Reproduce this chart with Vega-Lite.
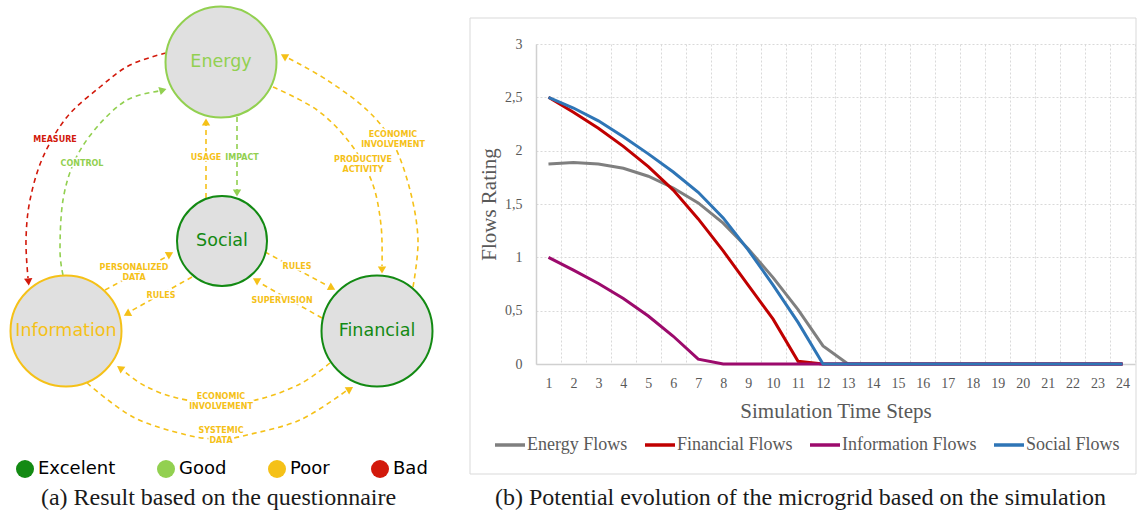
{
  "$schema": "https://vega.github.io/schema/vega-lite/v6.json",
  "padding": 0,
  "background": "white",
  "bounds": "flush",
  "center": true,
  "spacing": 99,
  "resolve": {"scale": {"color": "independent"}, "legend": {"color": "independent"}},
  "config": {"view": {"stroke": null}},
  "datasets": {
    "frame": [{"x": 470, "y": 18, "x2": 1136, "y2": 474}],
    "nodes": [
      {"node": "Energy", "x": 221, "y": 62, "rating": "Good"},
      {"node": "Social", "x": 222, "y": 241, "rating": "Excelent"},
      {"node": "Information", "x": 66, "y": 331, "rating": "Poor"},
      {"node": "Financial", "x": 377, "y": 331, "rating": "Excelent"}
    ],
    "arrows": [
      {"arrow": "A1", "i": 0, "x": 166, "y": 53, "rating": "Bad"},
      {"arrow": "A1", "i": 1, "x": 130, "y": 65, "rating": "Bad"},
      {"arrow": "A1", "i": 2, "x": 100, "y": 87, "rating": "Bad"},
      {"arrow": "A1", "i": 3, "x": 67, "y": 117, "rating": "Bad"},
      {"arrow": "A1", "i": 4, "x": 43, "y": 157, "rating": "Bad"},
      {"arrow": "A1", "i": 5, "x": 30, "y": 200, "rating": "Bad"},
      {"arrow": "A1", "i": 6, "x": 26, "y": 240, "rating": "Bad"},
      {"arrow": "A1", "i": 7, "x": 28, "y": 278, "rating": "Bad"},
      {"arrow": "A2", "i": 0, "x": 63, "y": 275, "rating": "Good"},
      {"arrow": "A2", "i": 1, "x": 60, "y": 250, "rating": "Good"},
      {"arrow": "A2", "i": 2, "x": 63, "y": 200, "rating": "Good"},
      {"arrow": "A2", "i": 3, "x": 75, "y": 160, "rating": "Good"},
      {"arrow": "A2", "i": 4, "x": 97, "y": 127, "rating": "Good"},
      {"arrow": "A2", "i": 5, "x": 127, "y": 100, "rating": "Good"},
      {"arrow": "A2", "i": 6, "x": 159, "y": 91, "rating": "Good"},
      {"arrow": "A3", "i": 0, "x": 206, "y": 198, "rating": "Poor"},
      {"arrow": "A3", "i": 1, "x": 206, "y": 125, "rating": "Poor"},
      {"arrow": "A4", "i": 0, "x": 237, "y": 117, "rating": "Good"},
      {"arrow": "A4", "i": 1, "x": 237, "y": 190, "rating": "Good"},
      {"arrow": "A5", "i": 0, "x": 273, "y": 87, "rating": "Poor"},
      {"arrow": "A5", "i": 1, "x": 317, "y": 110, "rating": "Poor"},
      {"arrow": "A5", "i": 2, "x": 350, "y": 143, "rating": "Poor"},
      {"arrow": "A5", "i": 3, "x": 372, "y": 182, "rating": "Poor"},
      {"arrow": "A5", "i": 4, "x": 381, "y": 225, "rating": "Poor"},
      {"arrow": "A5", "i": 5, "x": 382, "y": 266, "rating": "Poor"},
      {"arrow": "A6", "i": 0, "x": 413, "y": 287, "rating": "Poor"},
      {"arrow": "A6", "i": 1, "x": 418, "y": 240, "rating": "Poor"},
      {"arrow": "A6", "i": 2, "x": 410, "y": 190, "rating": "Poor"},
      {"arrow": "A6", "i": 3, "x": 393, "y": 143, "rating": "Poor"},
      {"arrow": "A6", "i": 4, "x": 367, "y": 110, "rating": "Poor"},
      {"arrow": "A6", "i": 5, "x": 327, "y": 80, "rating": "Poor"},
      {"arrow": "A6", "i": 6, "x": 288, "y": 58, "rating": "Poor"},
      {"arrow": "A7", "i": 0, "x": 105, "y": 290, "rating": "Poor"},
      {"arrow": "A7", "i": 1, "x": 166, "y": 257, "rating": "Poor"},
      {"arrow": "A8", "i": 0, "x": 192, "y": 277, "rating": "Poor"},
      {"arrow": "A8", "i": 1, "x": 131, "y": 311, "rating": "Poor"},
      {"arrow": "A9", "i": 0, "x": 265, "y": 252, "rating": "Poor"},
      {"arrow": "A9", "i": 1, "x": 328, "y": 286, "rating": "Poor"},
      {"arrow": "A10", "i": 0, "x": 322, "y": 318, "rating": "Poor"},
      {"arrow": "A10", "i": 1, "x": 260, "y": 283, "rating": "Poor"},
      {"arrow": "A11", "i": 0, "x": 330, "y": 363, "rating": "Poor"},
      {"arrow": "A11", "i": 1, "x": 300, "y": 384, "rating": "Poor"},
      {"arrow": "A11", "i": 2, "x": 260, "y": 399, "rating": "Poor"},
      {"arrow": "A11", "i": 3, "x": 221, "y": 404, "rating": "Poor"},
      {"arrow": "A11", "i": 4, "x": 177, "y": 398, "rating": "Poor"},
      {"arrow": "A11", "i": 5, "x": 145, "y": 386, "rating": "Poor"},
      {"arrow": "A11", "i": 6, "x": 124, "y": 371, "rating": "Poor"},
      {"arrow": "A12", "i": 0, "x": 87, "y": 383, "rating": "Poor"},
      {"arrow": "A12", "i": 1, "x": 133, "y": 417, "rating": "Poor"},
      {"arrow": "A12", "i": 2, "x": 187, "y": 435, "rating": "Poor"},
      {"arrow": "A12", "i": 3, "x": 221, "y": 439, "rating": "Poor"},
      {"arrow": "A12", "i": 4, "x": 247, "y": 435, "rating": "Poor"},
      {"arrow": "A12", "i": 5, "x": 300, "y": 420, "rating": "Poor"},
      {"arrow": "A12", "i": 6, "x": 346, "y": 391, "rating": "Poor"}
    ],
    "heads": [
      {"x": 28.5, "y": 282, "angle": 175, "rating": "Bad"},
      {"x": 163, "y": 90, "angle": 73, "rating": "Good"},
      {"x": 206, "y": 122, "angle": 0, "rating": "Poor"},
      {"x": 237, "y": 193, "angle": 180, "rating": "Good"},
      {"x": 382, "y": 270, "angle": 180, "rating": "Poor"},
      {"x": 284, "y": 56, "angle": -60, "rating": "Poor"},
      {"x": 170, "y": 254, "angle": 61, "rating": "Poor"},
      {"x": 127, "y": 314, "angle": -119, "rating": "Poor"},
      {"x": 332, "y": 288, "angle": 118, "rating": "Poor"},
      {"x": 256, "y": 280, "angle": -60, "rating": "Poor"},
      {"x": 120, "y": 368, "angle": -55, "rating": "Poor"},
      {"x": 350, "y": 389, "angle": 58, "rating": "Poor"}
    ],
    "labels": [
      {"text": "MEASURE", "x": 55, "y": 140, "rating": "Bad"},
      {"text": "CONTROL", "x": 82, "y": 164, "rating": "Good"},
      {"text": "USAGE", "x": 206, "y": 158, "rating": "Poor"},
      {"text": "IMPACT", "x": 242, "y": 158, "rating": "Good"},
      {"text": "PRODUCTIVE", "x": 363, "y": 160, "rating": "Poor"},
      {"text": "ACTIVITY", "x": 363, "y": 170, "rating": "Poor"},
      {"text": "ECONOMIC", "x": 393, "y": 135, "rating": "Poor"},
      {"text": "INVOLVEMENT", "x": 393, "y": 145, "rating": "Poor"},
      {"text": "PERSONALIZED", "x": 134, "y": 268, "rating": "Poor"},
      {"text": "DATA", "x": 134, "y": 278, "rating": "Poor"},
      {"text": "RULES", "x": 161, "y": 296, "rating": "Poor"},
      {"text": "RULES", "x": 297, "y": 267, "rating": "Poor"},
      {"text": "SUPERVISION", "x": 282, "y": 301, "rating": "Poor"},
      {"text": "ECONOMIC", "x": 221, "y": 397, "rating": "Poor"},
      {"text": "INVOLVEMENT", "x": 221, "y": 407, "rating": "Poor"},
      {"text": "SYSTEMIC", "x": 221, "y": 431, "rating": "Poor"},
      {"text": "DATA", "x": 221, "y": 441, "rating": "Poor"}
    ],
    "flows": [
      {"step": 1, "series": "Energy Flows", "value": 1.875},
      {"step": 2, "series": "Energy Flows", "value": 1.89},
      {"step": 3, "series": "Energy Flows", "value": 1.875},
      {"step": 4, "series": "Energy Flows", "value": 1.835},
      {"step": 5, "series": "Energy Flows", "value": 1.76},
      {"step": 6, "series": "Energy Flows", "value": 1.65},
      {"step": 7, "series": "Energy Flows", "value": 1.51},
      {"step": 8, "series": "Energy Flows", "value": 1.32},
      {"step": 9, "series": "Energy Flows", "value": 1.08},
      {"step": 10, "series": "Energy Flows", "value": 0.81},
      {"step": 11, "series": "Energy Flows", "value": 0.51},
      {"step": 12, "series": "Energy Flows", "value": 0.17},
      {"step": 13, "series": "Energy Flows", "value": 0},
      {"step": 14, "series": "Energy Flows", "value": 0},
      {"step": 15, "series": "Energy Flows", "value": 0},
      {"step": 16, "series": "Energy Flows", "value": 0},
      {"step": 17, "series": "Energy Flows", "value": 0},
      {"step": 18, "series": "Energy Flows", "value": 0},
      {"step": 19, "series": "Energy Flows", "value": 0},
      {"step": 20, "series": "Energy Flows", "value": 0},
      {"step": 21, "series": "Energy Flows", "value": 0},
      {"step": 22, "series": "Energy Flows", "value": 0},
      {"step": 23, "series": "Energy Flows", "value": 0},
      {"step": 24, "series": "Energy Flows", "value": 0},
      {"step": 1, "series": "Financial Flows", "value": 2.5},
      {"step": 2, "series": "Financial Flows", "value": 2.36},
      {"step": 3, "series": "Financial Flows", "value": 2.21},
      {"step": 4, "series": "Financial Flows", "value": 2.04},
      {"step": 5, "series": "Financial Flows", "value": 1.85},
      {"step": 6, "series": "Financial Flows", "value": 1.63},
      {"step": 7, "series": "Financial Flows", "value": 1.36},
      {"step": 8, "series": "Financial Flows", "value": 1.06},
      {"step": 9, "series": "Financial Flows", "value": 0.74},
      {"step": 10, "series": "Financial Flows", "value": 0.42},
      {"step": 11, "series": "Financial Flows", "value": 0.025},
      {"step": 12, "series": "Financial Flows", "value": 0},
      {"step": 13, "series": "Financial Flows", "value": 0},
      {"step": 14, "series": "Financial Flows", "value": 0},
      {"step": 15, "series": "Financial Flows", "value": 0},
      {"step": 16, "series": "Financial Flows", "value": 0},
      {"step": 17, "series": "Financial Flows", "value": 0},
      {"step": 18, "series": "Financial Flows", "value": 0},
      {"step": 19, "series": "Financial Flows", "value": 0},
      {"step": 20, "series": "Financial Flows", "value": 0},
      {"step": 21, "series": "Financial Flows", "value": 0},
      {"step": 22, "series": "Financial Flows", "value": 0},
      {"step": 23, "series": "Financial Flows", "value": 0},
      {"step": 24, "series": "Financial Flows", "value": 0},
      {"step": 1, "series": "Information Flows", "value": 1.0},
      {"step": 2, "series": "Information Flows", "value": 0.88},
      {"step": 3, "series": "Information Flows", "value": 0.755},
      {"step": 4, "series": "Information Flows", "value": 0.615},
      {"step": 5, "series": "Information Flows", "value": 0.45},
      {"step": 6, "series": "Information Flows", "value": 0.26},
      {"step": 7, "series": "Information Flows", "value": 0.045},
      {"step": 8, "series": "Information Flows", "value": 0},
      {"step": 9, "series": "Information Flows", "value": 0},
      {"step": 10, "series": "Information Flows", "value": 0},
      {"step": 11, "series": "Information Flows", "value": 0},
      {"step": 12, "series": "Information Flows", "value": 0},
      {"step": 13, "series": "Information Flows", "value": 0},
      {"step": 14, "series": "Information Flows", "value": 0},
      {"step": 15, "series": "Information Flows", "value": 0},
      {"step": 16, "series": "Information Flows", "value": 0},
      {"step": 17, "series": "Information Flows", "value": 0},
      {"step": 18, "series": "Information Flows", "value": 0},
      {"step": 19, "series": "Information Flows", "value": 0},
      {"step": 20, "series": "Information Flows", "value": 0},
      {"step": 21, "series": "Information Flows", "value": 0},
      {"step": 22, "series": "Information Flows", "value": 0},
      {"step": 23, "series": "Information Flows", "value": 0},
      {"step": 24, "series": "Information Flows", "value": 0},
      {"step": 1, "series": "Social Flows", "value": 2.5},
      {"step": 2, "series": "Social Flows", "value": 2.4},
      {"step": 3, "series": "Social Flows", "value": 2.28},
      {"step": 4, "series": "Social Flows", "value": 2.13},
      {"step": 5, "series": "Social Flows", "value": 1.97},
      {"step": 6, "series": "Social Flows", "value": 1.8},
      {"step": 7, "series": "Social Flows", "value": 1.61},
      {"step": 8, "series": "Social Flows", "value": 1.37},
      {"step": 9, "series": "Social Flows", "value": 1.07},
      {"step": 10, "series": "Social Flows", "value": 0.74},
      {"step": 11, "series": "Social Flows", "value": 0.39},
      {"step": 12, "series": "Social Flows", "value": 0},
      {"step": 13, "series": "Social Flows", "value": 0},
      {"step": 14, "series": "Social Flows", "value": 0},
      {"step": 15, "series": "Social Flows", "value": 0},
      {"step": 16, "series": "Social Flows", "value": 0},
      {"step": 17, "series": "Social Flows", "value": 0},
      {"step": 18, "series": "Social Flows", "value": 0},
      {"step": 19, "series": "Social Flows", "value": 0},
      {"step": 20, "series": "Social Flows", "value": 0},
      {"step": 21, "series": "Social Flows", "value": 0},
      {"step": 22, "series": "Social Flows", "value": 0},
      {"step": 23, "series": "Social Flows", "value": 0},
      {"step": 24, "series": "Social Flows", "value": 0}
    ]
  },
  "hconcat": [
    {
      "width": 437,
      "height": 408,
      "title": {"text": "(a) Result based on the questionnaire", "orient": "bottom", "anchor": "middle", "frame": "group", "font": "Liberation Serif", "fontSize": 24, "fontWeight": "normal", "color": "#1a1a1a", "offset": 8},
      "encoding": {
        "x": {"field": "x", "type": "quantitative", "scale": {"domain": [0, 437], "nice": false, "zero": false}, "axis": null},
        "y": {"field": "y", "type": "quantitative", "scale": {"domain": [0, 408], "nice": false, "zero": false, "reverse": true}, "axis": null}
      },
      "layer": [
        {
          "data": {"name": "frame"},
          "mark": {"type": "rect", "fill": "transparent", "stroke": "#d9d9d9", "strokeWidth": 1},
          "encoding": {
            "x2": {"field": "x2"},
            "y2": {"field": "y2"}
          }
        },
        {
          "data": {"name": "arrows"},
          "mark": {"type": "line", "strokeDash": [5, 4], "strokeWidth": 1.6, "interpolate": "cardinal"},
          "encoding": {
            "detail": {"field": "arrow"},
            "order": {"field": "i", "type": "quantitative"},
            "color": {"field": "rating", "type": "nominal", "scale": {"domain": ["Excelent", "Good", "Poor", "Bad"], "range": ["#138a13", "#92d050", "#f5c118", "#d2190b"]},
              "legend": {"orient": "none", "legendX": 16, "legendY": 460, "direction": "horizontal", "title": null, "symbolType": "circle", "symbolSize": 324, "symbolOpacity": 1, "symbolStrokeWidth": 0, "symbolDash": [], "labelFont": "DejaVu Sans", "labelFontSize": 18, "labelColor": "#000000", "labelOffset": 4, "columnPadding": 41, "padding": 0,
                "encode": {"symbols": {"update": {"fill": {"scale": "color", "field": "value"}, "fillOpacity": {"value": 1}, "strokeWidth": {"value": 0}}}}}}
          }
        },
        {
          "data": {"name": "heads"},
          "mark": {"type": "point", "shape": "triangle-up", "filled": true, "size": 70, "opacity": 1},
          "encoding": {
            "angle": {"field": "angle", "type": "quantitative", "scale": null},
            "color": {"field": "rating", "type": "nominal", "scale": {"domain": ["Excelent", "Good", "Poor", "Bad"], "range": ["#138a13", "#92d050", "#f5c118", "#d2190b"]},
              "legend": {"orient": "none", "legendX": 16, "legendY": 460, "direction": "horizontal", "title": null, "symbolType": "circle", "symbolSize": 324, "symbolOpacity": 1, "symbolStrokeWidth": 0, "symbolDash": [], "labelFont": "DejaVu Sans", "labelFontSize": 18, "labelColor": "#000000", "labelOffset": 4, "columnPadding": 41, "padding": 0,
                "encode": {"symbols": {"update": {"fill": {"scale": "color", "field": "value"}, "fillOpacity": {"value": 1}, "strokeWidth": {"value": 0}}}}}}
          }
        },
        {
          "data": {"name": "nodes"},
          "mark": {"type": "point", "shape": "circle", "fill": "#e0e0e0", "filled": false, "strokeWidth": 2, "opacity": 1, "fillOpacity": 1},
          "encoding": {
            "size": {"condition": {"test": "datum.node === 'Social'", "value": 8100}, "value": 12321},
            "stroke": {"field": "rating", "type": "nominal", "scale": {"domain": ["Excelent", "Good", "Poor", "Bad"], "range": ["#138a13", "#92d050", "#f5c118", "#d2190b"]}, "legend": null}
          }
        },
        {
          "data": {"name": "nodes"},
          "mark": {"type": "text", "font": "DejaVu Sans", "fontSize": 17.5, "align": "center", "baseline": "middle"},
          "encoding": {
            "text": {"field": "node"},
            "color": {"field": "rating", "type": "nominal",
              "legend": {"orient": "none", "legendX": 16, "legendY": 460, "direction": "horizontal", "title": null, "symbolType": "circle", "symbolSize": 324, "symbolOpacity": 1, "symbolStrokeWidth": 0, "symbolDash": [], "labelFont": "DejaVu Sans", "labelFontSize": 18, "labelColor": "#000000", "labelOffset": 4, "columnPadding": 41, "padding": 0,
                "encode": {"symbols": {"update": {"fill": {"scale": "color", "field": "value"}, "fillOpacity": {"value": 1}, "strokeWidth": {"value": 0}}}}}}
          }
        },
        {
          "data": {"name": "labels"},
          "mark": {"type": "text", "font": "DejaVu Sans", "fontSize": 8, "fontWeight": "bold", "align": "center", "baseline": "middle", "stroke": "white", "strokeWidth": 3, "fill": "white"},
          "encoding": {"text": {"field": "text"}}
        },
        {
          "data": {"name": "labels"},
          "mark": {"type": "text", "font": "DejaVu Sans", "fontSize": 8, "fontWeight": "bold", "align": "center", "baseline": "middle"},
          "encoding": {
            "text": {"field": "text"},
            "color": {"field": "rating", "type": "nominal",
              "legend": {"orient": "none", "legendX": 16, "legendY": 460, "direction": "horizontal", "title": null, "symbolType": "circle", "symbolSize": 324, "symbolOpacity": 1, "symbolStrokeWidth": 0, "symbolDash": [], "labelFont": "DejaVu Sans", "labelFontSize": 18, "labelColor": "#000000", "labelOffset": 4, "columnPadding": 41, "padding": 0,
                "encode": {"symbols": {"update": {"fill": {"scale": "color", "field": "value"}, "fillOpacity": {"value": 1}, "strokeWidth": {"value": 0}}}}}}
          }
        }
      ]
    },
    {
      "width": 599,
      "height": 320,
      "data": {"name": "flows"},
      "title": {"text": "(b) Potential evolution of the microgrid based on the simulation", "orient": "bottom", "anchor": "middle", "frame": "group", "dx": -35, "font": "Liberation Serif", "fontSize": 24, "fontWeight": "normal", "color": "#1a1a1a", "offset": 32},
      "mark": {"type": "line", "strokeWidth": 3, "interpolate": "linear"},
      "encoding": {
        "x": {
          "field": "step", "type": "ordinal", "bandPosition": 0.5,
          "scale": {"type": "band", "paddingInner": 0, "paddingOuter": 0},
          "axis": {"title": "Simulation Time Steps", "tickBand": "extent", "grid": true, "gridColor": "#d9d9d9", "gridDash": [2, 2], "gridWidth": 1, "ticks": false, "domain": true, "domainColor": "#d0d0d0", "domainWidth": 1.5, "labelAngle": 0, "labelFont": "Liberation Serif", "labelFontSize": 14, "labelColor": "#595959", "labelPadding": 12, "titleFont": "Liberation Serif", "titleFontSize": 21, "titleFontWeight": "normal", "titleColor": "#595959", "titlePadding": 10}
        },
        "y": {
          "field": "value", "type": "quantitative",
          "scale": {"domain": [0, 3], "nice": false},
          "axis": {"title": "Flows Rating", "values": [0, 0.5, 1, 1.5, 2, 2.5, 3], "format": "~g", "labelExpr": "replace(datum.label, '.', ',')", "grid": true, "gridColor": "#d9d9d9", "gridDash": [2, 2], "gridWidth": 1, "ticks": false, "domain": true, "domainColor": "#d0d0d0", "domainWidth": 1.5, "labelFont": "Liberation Serif", "labelFontSize": 14, "labelColor": "#595959", "labelPadding": 14, "titleFont": "Liberation Serif", "titleFontSize": 21, "titleFontWeight": "normal", "titleColor": "#595959", "titlePadding": 5}
        },
        "color": {
          "field": "series", "type": "nominal",
          "scale": {"domain": ["Energy Flows", "Financial Flows", "Information Flows", "Social Flows"], "range": ["#7f7f7f", "#c00000", "#9c0a6c", "#2e75b6"]},
          "legend": {"orient": "none", "legendX": -43, "legendY": 384, "direction": "horizontal", "title": null, "symbolType": "stroke", "symbolSize": 900, "symbolStrokeWidth": 3.5, "labelFont": "Liberation Serif", "labelFontSize": 18, "labelColor": "#595959", "labelOffset": 0, "columnPadding": 10, "padding": 0}
        }
      }
    }
  ]
}
